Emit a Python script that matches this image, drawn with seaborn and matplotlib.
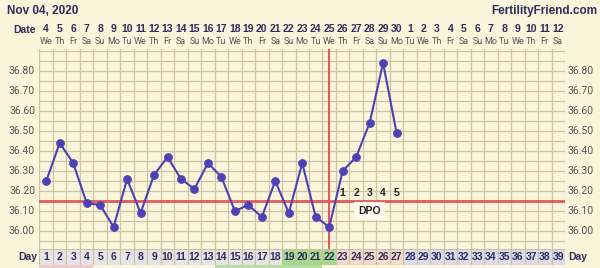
import matplotlib
matplotlib.use("Agg")
import matplotlib.pyplot as plt
import seaborn as sns
import pandas as pd
import numpy as np

# ---- data ----
cycle_days = list(range(1, 40))
date_labels = ["4", "5", "6", "7", "8", "9", "10", "11", "12", "13", "14", "15", "16", "17",
               "18", "19", "20", "21", "22", "23", "24", "25", "26", "27", "28", "29", "30",
               "1", "2", "3", "4", "5", "6", "7", "8", "9", "10", "11", "12"]
weekday_labels = ["We", "Th", "Fr", "Sa", "Su", "Mo", "Tu"] * 5 + ["We", "Th", "Fr", "Sa"]
temp_days = list(range(1, 28))
temps = [36.25, 36.44, 36.34, 36.14, 36.13, 36.02, 36.26, 36.09, 36.28, 36.37,
         36.26, 36.21, 36.34, 36.27, 36.10, 36.13, 36.07, 36.25, 36.09, 36.34,
         36.07, 36.02, 36.30, 36.37, 36.54, 36.84, 36.49]
coverline = 36.15
ovulation_day = 22
dpo_days = [23, 24, 25, 26, 27]
dpo_labels = ["1", "2", "3", "4", "5"]
ytick_vals = [36.00, 36.10, 36.20, 36.30, 36.40, 36.50, 36.60, 36.70, 36.80]
green_days = [19, 20, 21, 22]
pink_days = [23, 24, 25, 26, 27]
future_days = list(range(28, 40))

# ---- style ----
BG = "#fbf5dc"
GRID = "#cdc5a2"
NAVY = "#2e2d5c"
LINE = "#4c41b5"
RED = "#e15b5b"
BOLDF = ["Liberation Sans", "DejaVu Sans"]
REGF = ["Roboto", "DejaVu Sans"]

fig = plt.figure(figsize=(6, 2.68), dpi=100, facecolor=BG)
W, H = 600, 268
x0, x1 = 39.5, 565
ytop, ybot = 49, 249

ax = fig.add_axes([x0 / W, 1 - ybot / H, (x1 - x0) / W, (ybot - ytop) / H])
ax.set_facecolor(BG)
ax.set_xlim(0.5, 39.5)
ax.set_ylim(35.91, 36.91)
ax.set_xticks(np.arange(0.5, 40, 1), minor=False)
ax.set_yticks(np.round(np.arange(35.95, 36.91, 0.05), 2))
ax.grid(True, color=GRID, linewidth=0.9)
ax.tick_params(length=0, labelleft=False, labelbottom=False)
for s in ax.spines.values():
    s.set_visible(False)
ax.set_axisbelow(True)

ax.axhline(coverline, color=RED, linewidth=2, zorder=2)
ax.axvline(ovulation_day, color=RED, linewidth=1.5, zorder=2)

df = pd.DataFrame({"day": temp_days, "temp": temps})
sns.lineplot(data=df, x="day", y="temp", ax=ax, color=LINE, linewidth=1.5,
             marker="o", markersize=5.5, markeredgecolor=LINE, zorder=3)
ax.set_xlabel("")
ax.set_ylabel("")

for d, lab in zip(dpo_days, dpo_labels):
    ax.text(d, 36.19, lab, ha="center", va="center", fontsize=7.5, fontweight="bold",
            color="#222", zorder=4, family=BOLDF)
ax.text(25, 36.10, "DPO", ha="center", va="center", fontsize=7.5, fontweight="bold",
        color="#222", zorder=4, family=BOLDF,
        bbox=dict(boxstyle="square,pad=0.4", facecolor="#fffbef", edgecolor="none"))

for v in ytick_vals:
    yy = 1 - (ytop + (36.91 - v) * 200) / H
    fig.text(35 / W, yy, f"{v:.2f}", ha="right", va="center", fontsize=7.5, color="#555",
             family=REGF)
    fig.text(568 / W, yy, f"{v:.2f}", ha="left", va="center", fontsize=7.5, color="#555",
             family=REGF)

# ---- header ----
fig.text(7 / W, 1 - 11 / H, "Nov 04, 2020", ha="left", va="center", fontsize=8.5,
         fontweight="bold", color=NAVY, family=BOLDF)
fig.text(597 / W, 1 - 11 / H, "FertilityFriend.com", ha="right", va="center",
         fontsize=8.5, fontweight="bold", color=NAVY, family=BOLDF)
fig.text(36 / W, 1 - 30 / H, "Date", ha="right", va="center", fontsize=7.5,
         fontweight="bold", color=NAVY, family=BOLDF)
colw = (x1 - x0) / 39
for i, (dl, wl) in enumerate(zip(date_labels, weekday_labels)):
    cx = (x0 + (i + 0.5) * colw) / W
    fig.text(cx, 1 - 28.5 / H, dl, ha="center", va="center", fontsize=7.5,
             fontweight="bold", color=NAVY, family=BOLDF)
    fig.text(cx, 1 - 41 / H, wl, ha="center", va="center", fontsize=6.5,
             color="#555", family=REGF)

# ---- day row ----
axd = fig.add_axes([x0 / W, 1 - 265 / H, (x1 - x0) / W, 16 / H])
colors = []
for d in cycle_days:
    if d in green_days:
        colors.append("#a6d98f")
    elif d in pink_days:
        colors.append("#f4d9cc")
    elif d in future_days:
        colors.append("#dcdcee")
    else:
        colors.append("#e6e5e6")
axd.bar(cycle_days, [1] * 39, width=1, color=colors, edgecolor="#c9c1a0", linewidth=0.8)
axd.set_xlim(0.5, 39.5)
axd.set_ylim(0, 1)
axd.axis("off")
for d in cycle_days:
    axd.text(d, 0.5, str(d), ha="center", va="center", fontsize=7.5, fontweight="bold",
             color=NAVY, family=BOLDF)
fig.text(37 / W, 1 - 257 / H, "Day", ha="right", va="center", fontsize=7.5,
         fontweight="bold", color=NAVY, family=BOLDF)
fig.text(568 / W, 1 - 257 / H, "Day", ha="left", va="center", fontsize=7.5,
         fontweight="bold", color=NAVY, family=BOLDF)

# thin strips below
axs = fig.add_axes([x0 / W, 0, (x1 - x0) / W, 3 / H])
strip_days = list(range(1, 5)) + list(range(14, 22))
strip_cols = ["#f2c9cc"] * 4 + ["#b4dfa0"] * 8
axs.bar(strip_days, [1] * len(strip_days), width=1, color=strip_cols, linewidth=0)
axs.set_xlim(0.5, 39.5)
axs.set_ylim(0, 1)
axs.axis("off")

fig.savefig("out.png", dpi=100, facecolor=BG)
